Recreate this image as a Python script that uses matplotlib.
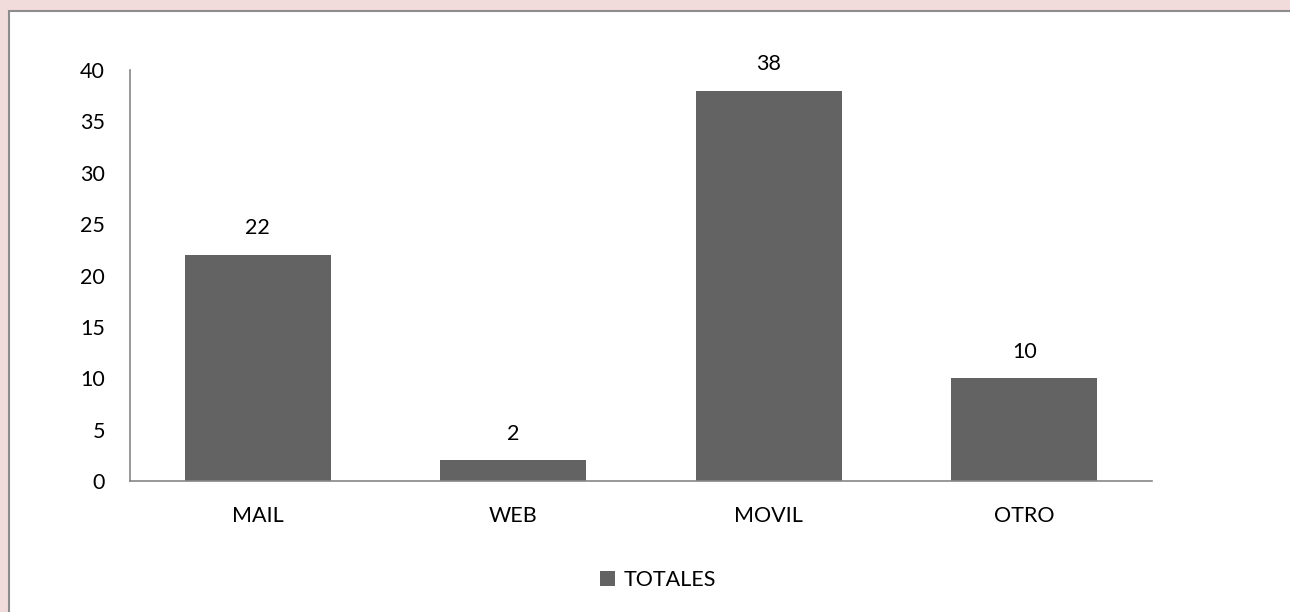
import matplotlib.pyplot as plt
from matplotlib.patches import Rectangle

# ============== Data ================
categories = ["MAIL", "WEB", "MOVIL", "OTRO"]
totales = [22, 2, 38, 10]
y_ticks = [0, 5, 10, 15, 20, 25, 30, 35, 40]

# ============== Style ================
plt.rcParams.update({
    "font.family": ["Lato", "DejaVu Sans"],
    "font.size": 15.5,
})
BAR_COLOR = "#636363"
AXIS_COLOR = "#868686"
PINK = "#f2dcdb"

fig = plt.figure(figsize=(12.9, 6.12), dpi=100, facecolor=PINK)
# white chart area with grey frame
fig.patches.append(Rectangle((8.5 / 1290, -0.1), 1.2, (612 - 10.5) / 612 + 0.1,
                             transform=fig.transFigure, facecolor="white",
                             edgecolor="#8c8c8c", linewidth=1.5, zorder=-10))

ax = fig.add_axes([130 / 1290, (612 - 481) / 612, (1152 - 130) / 1290, (481 - 70) / 612])
ax.set_facecolor("none")

bars = ax.bar(range(len(categories)), totales, width=0.57, color=BAR_COLOR, label="TOTALES", zorder=2)
for b, v in zip(bars, totales):
    ax.annotate(str(v), (b.get_x() + b.get_width() / 2, v), xytext=(0, 12),
                textcoords="offset points", ha="center", va="bottom")

ax.set_xlim(-0.5, len(categories) - 0.5)
ax.set_ylim(0, 40)
ax.set_yticks(y_ticks)
ax.set_xticks(range(len(categories)))
ax.set_xticklabels(categories)
ax.tick_params(axis="y", length=0, pad=18)
ax.tick_params(axis="x", length=0, pad=18)

for side in ["top", "right"]:
    ax.spines[side].set_visible(False)
for side in ["left", "bottom"]:
    ax.spines[side].set_color(AXIS_COLOR)
    ax.spines[side].set_linewidth(1.2)

fig.legend(handles=[bars], labels=["TOTALES"], loc="center", bbox_to_anchor=(658 / 1290, 1 - 580 / 612),
           frameon=False, handlelength=0.7, handleheight=0.7, handletextpad=0.4)

fig.savefig("out.png", dpi=100, facecolor=PINK)
